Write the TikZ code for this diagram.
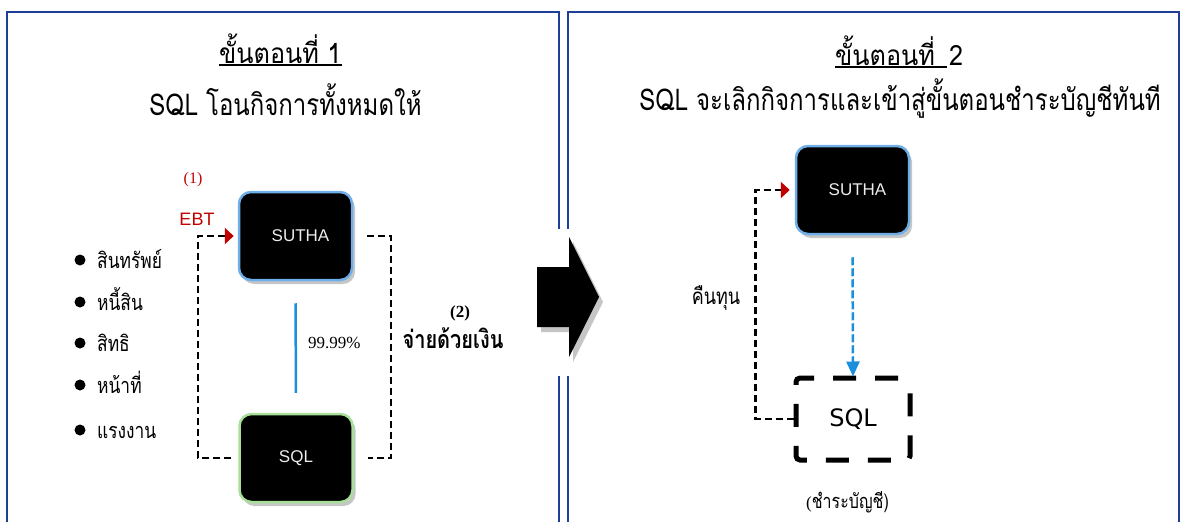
\documentclass[tikz,border=0pt]{standalone}
\usepackage{fontspec}
\usepackage{graphicx}
\setmainfont{Liberation Serif}
\newfontfamily\thai[Script=Thai, FakeStretch=0.8]{Loma}
\newfontfamily\thaiT[Script=Thai, FakeStretch=0.9]{Loma}
\newfontfamily\arial{Liberation Sans}
\newfontfamily\dejavu{DejaVu Sans}
\usetikzlibrary{arrows.meta,shadows}
\definecolor{panelblue}{HTML}{1F3F97}
\definecolor{sblue}{HTML}{6FAEE8}
\definecolor{sgreen}{HTML}{A8E09A}
\definecolor{linkblue}{HTML}{1B8FDB}
\definecolor{ebtred}{HTML}{C00000}
\tikzset{
  panel/.style={draw=panelblue, line width=2.6pt},
  entity/.style={fill=black, rounded corners=12pt, line width=2.5pt, minimum width=113pt, minimum height=88pt,
    text=gray!15, font=\arial\fontsize{17}{20}\selectfont,
    drop shadow={opacity=0.45, shadow xshift=3pt, shadow yshift=-4pt}},
  dashline/.style={draw=black, line width=2.4pt, dash pattern=on 7pt off 4pt},
  redtip/.style={-{Triangle[color=ebtred, width=16pt, length=9pt]}},
  titlef/.style={font=\thaiT\fontsize{28}{32}\selectfont, inner sep=0pt},
  linef/.style={font=\thai\fontsize{30}{34}\selectfont, inner sep=0pt},
  thaitext/.style={font=\thai\fontsize{21.7}{24}\selectfont, inner sep=0pt, anchor=base west},
  bullet/.style={circle, fill=black, inner sep=0pt, minimum size=11pt}
}
\begin{document}
\begin{tikzpicture}[x=1pt,y=-1pt]
\useasboundingbox (0,0) rectangle (1181,522);
% panels
\draw[panel] (7,540) -- (7,12) -- (559,12) -- (559,540);
\draw[panel] (568,540) -- (568,12) -- (1179,12) -- (1179,540);
\fill[white] (548,229) rectangle (582,376);
% big arrow
\fill[black, drop shadow={opacity=0.45, shadow xshift=4pt, shadow yshift=-5pt}]
  (537,267) -- (569,267) -- (569,237) -- (599,297) -- (569,357) -- (569,327) -- (537,327) -- cycle;

% ---- left panel titles
\node[titlef, anchor=base west] (t1) at (219,63) {ขั้นตอนที่ 1};
\draw[line width=2.2pt] ([yshift=-2pt]t1.base west) -- ([yshift=-2pt]t1.base east);
\node[linef, anchor=base] (t1b) at (285.5,115) {SQL โอนกิจการทั้งหมดให้};

% left entities
\node[entity, draw=sblue] (s1) at (295.5,236) {\hspace*{10pt}SUTHA};
\node[entity, draw=sgreen] (q1) at (296,458) {SQL};
\draw[linkblue, line width=2.5pt, shorten <=22pt, shorten >=20pt] (s1.south) -- (q1.north);
\node[font=\fontsize{17}{20}\selectfont, anchor=west, inner sep=0pt] (pct) at (308,343) {99.99\%};

\draw[dashline, redtip] ([xshift=-7pt]q1.west) -- ++(-33,0) |- ([xshift=-4pt]s1.west);
\draw[dashline] ([xshift=14pt]s1.east) -- ++(24,0) |- ([xshift=14pt]q1.east);

\node[text=ebtred, font=\fontsize{16}{19}\selectfont, inner sep=0pt] (n1) at (193,180) {(1)};
\node[text=ebtred, font=\arial\fontsize{18}{21}\selectfont, inner sep=0pt] (ebt) at (197,219) {EBT};
\node[font=\bfseries\fontsize{17}{20}\selectfont, inner sep=0pt] (n2) at (460,313) {(2)};
\node[font=\thai\bfseries\fontsize{25}{28}\selectfont, inner sep=0pt] (pay) at (453,338) {จ่ายด้วยเงิน};

% bullets
\foreach \y/\t [count=\i] in {260/สินทรัพย์, 302/หนี้สิน, 343/สิทธิ, 385/หน้าที่, 430/แรงงาน}{
  \node[bullet] (b\i) at (80,\y) {};
  \node[thaitext] (bt\i) at (97,\y+8) {\t};
}

% ---- right panel titles
\node[titlef, anchor=base west] (t2) at (835,65) {ขั้นตอนที่};
\node[titlef, anchor=base west] (t2n) at (949,65) {2};
\draw[line width=2.2pt] ([yshift=-2pt]t2.base west) -- ([yshift=-2pt, xshift=-2pt]t2n.base west);
\node[linef, anchor=base] (t2b) at (900,110) {SQL จะเลิกกิจการและเข้าสู่ขั้นตอนชำระบัญชีทันที};

% right entities
\node[entity, draw=sblue] (s2) at (852.5,190) {\hspace*{10pt}\raisebox{-4pt}{SUTHA}};
\node[draw=black, line width=5pt, dash pattern=on 23pt off 19pt, dash phase=-8pt, rounded corners=4pt,
  minimum width=114pt, minimum height=82pt, font=\dejavu\fontsize{24}{28}\selectfont] (q2) at (853,419) {SQL};
\draw[linkblue, line width=2.5pt, dash pattern=on 8pt off 3pt, shorten <=22pt,
  -{Triangle[width=13pt, length=15pt, color=linkblue]}] (s2.south) -- ([yshift=-1pt]q2.north);
\draw[dashline, redtip] (q2.west) -- ++(-38,0) |- ([xshift=-5pt]s2.west);
\node[font=\thai\fontsize{22.4}{26}\selectfont, inner sep=0pt] (ret) at (716,298) {คืนทุน};
\node[font=\fontsize{17}{20}\selectfont, inner sep=0pt] (liq) at (847.5,502) {(\thai\fontsize{20}{24}\selectfont ชำระบัญชี)};
\end{tikzpicture}
\end{document}
